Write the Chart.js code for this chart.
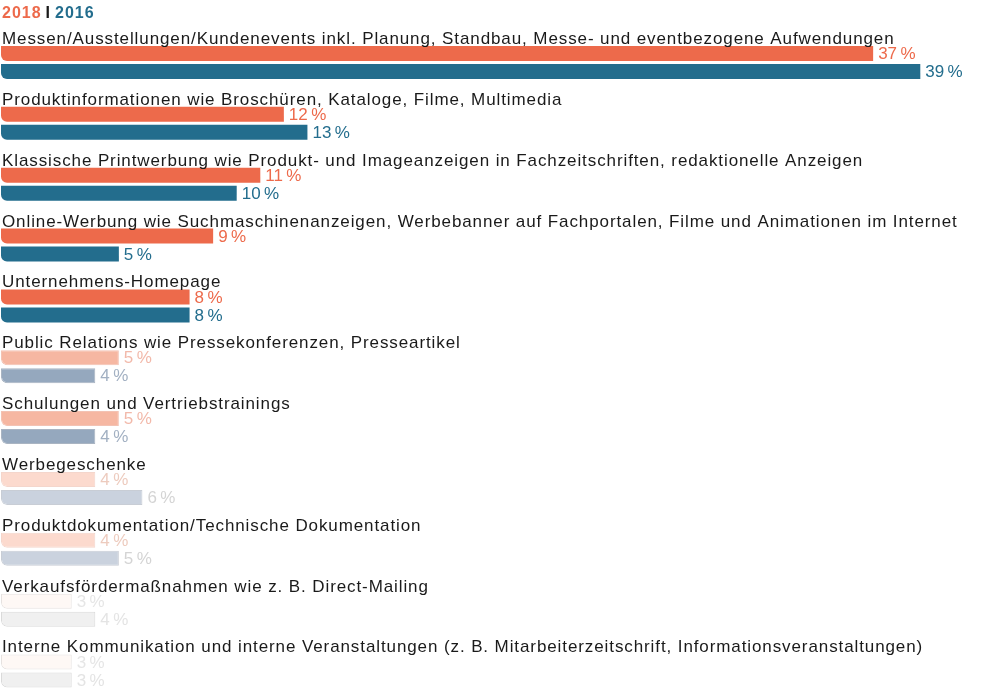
<!DOCTYPE html>
<html>
<head>
<meta charset="utf-8">
<script src="https://cdn.jsdelivr.net/npm/chart.js@4/dist/chart.umd.min.js"></script>
<style>
  html, body { margin: 0; padding: 0; background: #fff; }
  #wrap { width: 1000px; height: 695px; position: relative; }
</style>
</head>
<body>
<div id="wrap"><canvas id="chart"></canvas></div>
<script>
// ── Daten ────────────────────────────────────────────────────────────────────
var categories = [
  'Messen/Ausstellungen/Kundenevents inkl. Planung, Standbau, Messe- und eventbezogene Aufwendungen',
  'Produktinformationen wie Broschüren, Kataloge, Filme, Multimedia',
  'Klassische Printwerbung wie Produkt- und Imageanzeigen in Fachzeitschriften, redaktionelle Anzeigen',
  'Online-Werbung wie Suchmaschinenanzeigen, Werbebanner auf Fachportalen, Filme und Animationen im Internet',
  'Unternehmens-Homepage',
  'Public Relations wie Pressekonferenzen, Presseartikel',
  'Schulungen und Vertriebstrainings',
  'Werbegeschenke',
  'Produktdokumentation/Technische Dokumentation',
  'Verkaufsfördermaßnahmen wie z. B. Direct-Mailing',
  'Interne Kommunikation und interne Veranstaltungen (z. B. Mitarbeiterzeitschrift, Informationsveranstaltungen)'
];
var seriesNames = ['2018', '2016'];
var values2018 = [37, 12, 11, 9, 8, 5, 5, 4, 4, 3, 3];
var values2016 = [39, 13, 10, 5, 8, 4, 4, 6, 5, 4, 3];

// ── Farben (unten ausgeblendet) ──────────────────────────────────────────────
var ORANGE = '#ED6A4B', TEAL = '#236D8D';
var fill2018   = [ORANGE, ORANGE, ORANGE, ORANGE, ORANGE, '#F6B7A2', '#F6B7A2', '#FCDACE', '#FCDACE', '#FEF8F5', '#FEF8F5'];
var fill2016   = [TEAL, TEAL, TEAL, TEAL, TEAL, '#95A8BE', '#95A8BE', '#CAD2DE', '#CAD2DE', '#F0F0F0', '#F0F0F0'];
var edge2018   = [ORANGE, ORANGE, ORANGE, ORANGE, ORANGE, '#F3C2B3', '#F3C2B3', '#F4D6CC', '#F4D6CC', '#E6E2E0', '#E6E2E0'];
var edge2016   = [TEAL, TEAL, TEAL, TEAL, TEAL, '#A9B4C2', '#A9B4C2', '#C8CDD5', '#C8CDD5', '#DADADA', '#DADADA'];
var text2018   = [ORANGE, ORANGE, ORANGE, ORANGE, ORANGE, '#F2B9AA', '#F2B9AA', '#EDCBBE', '#EDCBBE', '#E6E6E6', '#E6E6E6'];
var text2016   = [TEAL, TEAL, TEAL, TEAL, TEAL, '#A2B0C2', '#A2B0C2', '#D4D4D4', '#D4D4D4', '#E4E4E4', '#E4E4E4'];
var edgeWidth  = [0, 0, 0, 0, 0, 1, 1, 1, 1, 1, 1];

var LABEL_FONT = '17px "Liberation Sans", Arial, sans-serif';
var VALUE_FONT = '17px "Liberation Sans", Arial, sans-serif';

// ── Plugin: Kategorie-Texte, Wertangaben, Legende ────────────────────────────
var textPlugin = {
  id: 'texts',
  afterDatasetsDraw: function (chart) {
    var ctx = chart.ctx;
    var m0 = chart.getDatasetMeta(0);
    var m1 = chart.getDatasetMeta(1);
    ctx.save();
    ctx.textAlign = 'left';

    categories.forEach(function (cat, i) {
      var b0 = m0.data[i], b1 = m1.data[i];
      // Kategorie über den Balken
      ctx.font = LABEL_FONT;
      ctx.letterSpacing = '0.9px';
      ctx.fillStyle = '#1a1a1a';
      ctx.textBaseline = 'alphabetic';
      ctx.fillText(cat, 2, b0.y - b0.height / 2 - 2);
      // Werte rechts neben den Balken
      ctx.font = VALUE_FONT;
      ctx.textBaseline = 'middle';
      ctx.letterSpacing = '0.5px';
      ctx.fillStyle = text2018[i];
      ctx.fillText(values2018[i] + '\u202F%', b0.x + 5, b0.y + 1);
      ctx.fillStyle = text2016[i];
      ctx.fillText(values2016[i] + '\u202F%', b1.x + 5, b1.y + 1);
    });

    // Legende oben links
    ctx.letterSpacing = '1px';
    ctx.textBaseline = 'middle';
    var x = 2, y = 14;
    ctx.font = 'bold 16px "Liberation Sans", Arial, sans-serif';
    ctx.fillStyle = ORANGE;
    ctx.fillText(seriesNames[0], x, y);
    x += ctx.measureText(seriesNames[0]).width + 4;
    ctx.fillStyle = '#1a1a1a';
    ctx.fillText('I', x, y);
    x += ctx.measureText('I').width + 4;
    ctx.fillStyle = TEAL;
    ctx.fillText(seriesNames[1], x, y);
    ctx.restore();
  }
};

function barDataset(label, data, fill, edge) {
  return {
    label: label,
    data: data,
    backgroundColor: fill,
    borderColor: edge,
    borderWidth: edgeWidth,
    borderSkipped: false,
    borderRadius: { topLeft: 0, topRight: 0, bottomLeft: 6, bottomRight: 0 },
    categoryPercentage: 0.592,
    barPercentage: 0.833,
    clip: false
  };
}

new Chart(document.getElementById('chart'), {
  type: 'bar',
  data: {
    labels: categories,
    datasets: [
      barDataset(seriesNames[0], values2018, fill2018, edge2018),
      barDataset(seriesNames[1], values2016, fill2016, edge2016)
    ]
  },
  options: {
    indexAxis: 'y',
    responsive: true,
    maintainAspectRatio: false,
    animation: false,
    layout: { padding: { top: 62.5, bottom: 24, left: 1, right: 9 } },
    plugins: {
      legend: { display: false },
      tooltip: { enabled: false }
    },
    scales: {
      x: { display: false, min: 0, max: 42 },
      y: { display: false, offset: false, grid: { offset: false } }
    }
  },
  plugins: [textPlugin]
});
</script>
</body>
</html>
